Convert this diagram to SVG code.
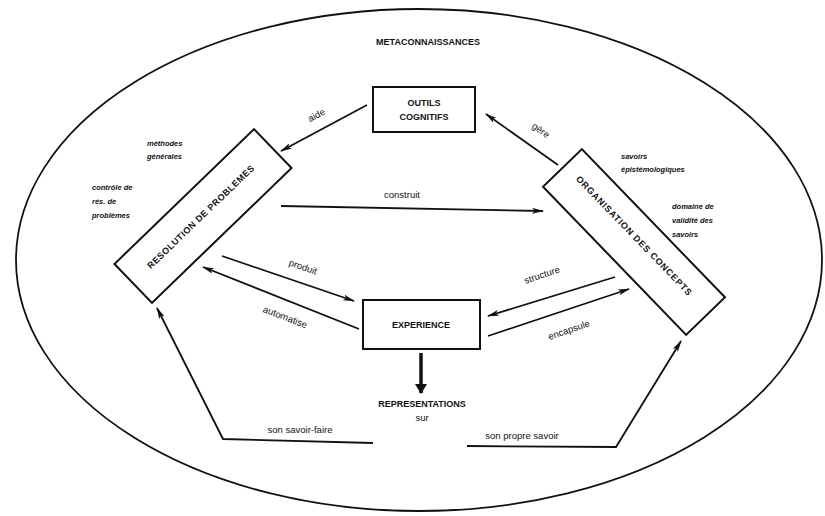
<svg xmlns="http://www.w3.org/2000/svg" width="825" height="516" viewBox="0 0 825 516">
<style>
.box{fill:#fff;stroke:#111;stroke-width:2}
.ln{fill:none;stroke:#111;stroke-width:1.8}
.node{font-family:"Liberation Sans",Arial,sans-serif;font-size:9px;font-weight:bold;fill:#111;text-anchor:middle}
.lab{font-family:"Liberation Sans",Arial,sans-serif;font-size:9.5px;fill:#111;text-anchor:middle}
.ann{font-family:"Liberation Sans",Arial,sans-serif;font-size:7.5px;font-weight:bold;font-style:italic;fill:#111}
</style>
<defs>
<marker id="ah" viewBox="0 0 12 6" refX="11" refY="3" markerWidth="12" markerHeight="6" markerUnits="userSpaceOnUse" orient="auto">
<path d="M0,0 L12,3 L0,6 L3,3 Z" fill="#111"/>
</marker>
<marker id="ahb" viewBox="0 0 10 12" refX="9" refY="6" markerWidth="10" markerHeight="12" markerUnits="userSpaceOnUse" orient="auto">
<path d="M0,0 L10,6 L0,12 Z" fill="#111"/>
</marker>
</defs>
<rect width="825" height="516" fill="#fff"/>
<ellipse cx="419" cy="260" rx="403" ry="251" fill="none" stroke="#111" stroke-width="1.8"/>
<text class="node" x="428" y="45" font-size="10">METACONNAISSANCES</text>

<g id="connectors">
<line class="ln" x1="367" y1="105" x2="281" y2="151" marker-end="url(#ah)"/>
<line class="ln" x1="558" y1="165" x2="486" y2="114" marker-end="url(#ah)"/>
<line class="ln" x1="281" y1="206" x2="543" y2="211" marker-end="url(#ah)"/>
<line class="ln" x1="222" y1="256" x2="354" y2="301" marker-end="url(#ah)"/>
<line class="ln" x1="359" y1="329" x2="203" y2="267" marker-end="url(#ah)"/>
<line class="ln" x1="615" y1="277" x2="488" y2="316" marker-end="url(#ah)"/>
<line class="ln" x1="488" y1="336" x2="629" y2="289" marker-end="url(#ah)"/>
<line x1="421" y1="353" x2="421" y2="393" stroke="#111" stroke-width="3.5" marker-end="url(#ahb)"/>
<polyline class="ln" points="373,443 223,439 157,308" marker-end="url(#ah)"/>
<polyline class="ln" points="467,446 616,447 681,341" marker-end="url(#ah)"/>
<text class="lab" transform="translate(318,118) rotate(-28)">aide</text>
<text class="lab" transform="translate(539,133) rotate(35)">gère</text>
<text class="lab" x="402" y="198">construit</text>
<text class="lab" transform="translate(302,270) rotate(19)">produit</text>
<text class="lab" transform="translate(284,320) rotate(21)">automatise</text>
<text class="lab" transform="translate(543,278) rotate(-19)">structure</text>
<text class="lab" transform="translate(570,333) rotate(-19)">encapsule</text>
<text class="lab" x="300" y="433" font-size="8">son savoir-faire</text>
<text class="lab" x="522" y="439" font-size="8">son propre savoir</text>
</g>

<g id="outils">
<rect class="box" x="373" y="87" width="102" height="45"/>
<text class="node" x="424" y="106">OUTILS</text>
<text class="node" x="424" y="120">COGNITIFS</text>
</g>

<g id="resolution">
<rect class="box" x="-97" y="-27" width="194" height="54" transform="translate(203,216) rotate(-44)"/>
<text class="node" transform="translate(203,219) rotate(-44)" letter-spacing="0.5">RESOLUTION DE PROBLEMES</text>
</g>

<g id="organisation">
<rect class="box" x="-103" y="-27" width="206" height="54" transform="translate(634,242) rotate(46)"/>
<text class="node" transform="translate(632,238) rotate(46)" letter-spacing="0.8">ORGANISATION DES CONCEPTS</text>
</g>

<g id="experience">
<rect class="box" x="363" y="300" width="117" height="49"/>
<text class="node" x="421" y="328">EXPERIENCE</text>
</g>

<g id="representations">
<text class="node" x="422" y="407">REPRESENTATIONS</text>
<text class="lab" x="422" y="421" font-size="8">sur</text>
</g>

<g id="annotations">
<text class="ann" x="147" y="146">méthodes</text>
<text class="ann" x="147" y="159">générales</text>
<text class="ann" x="92" y="190">contrôle de</text>
<text class="ann" x="92" y="204">rés. de</text>
<text class="ann" x="92" y="218">problèmes</text>
<text class="ann" x="621" y="159">savoirs</text>
<text class="ann" x="621" y="172">épistémologiques</text>
<text class="ann" x="672" y="209">domaine de</text>
<text class="ann" x="672" y="223">validité des</text>
<text class="ann" x="672" y="237">savoirs</text>
</g>
</svg>
